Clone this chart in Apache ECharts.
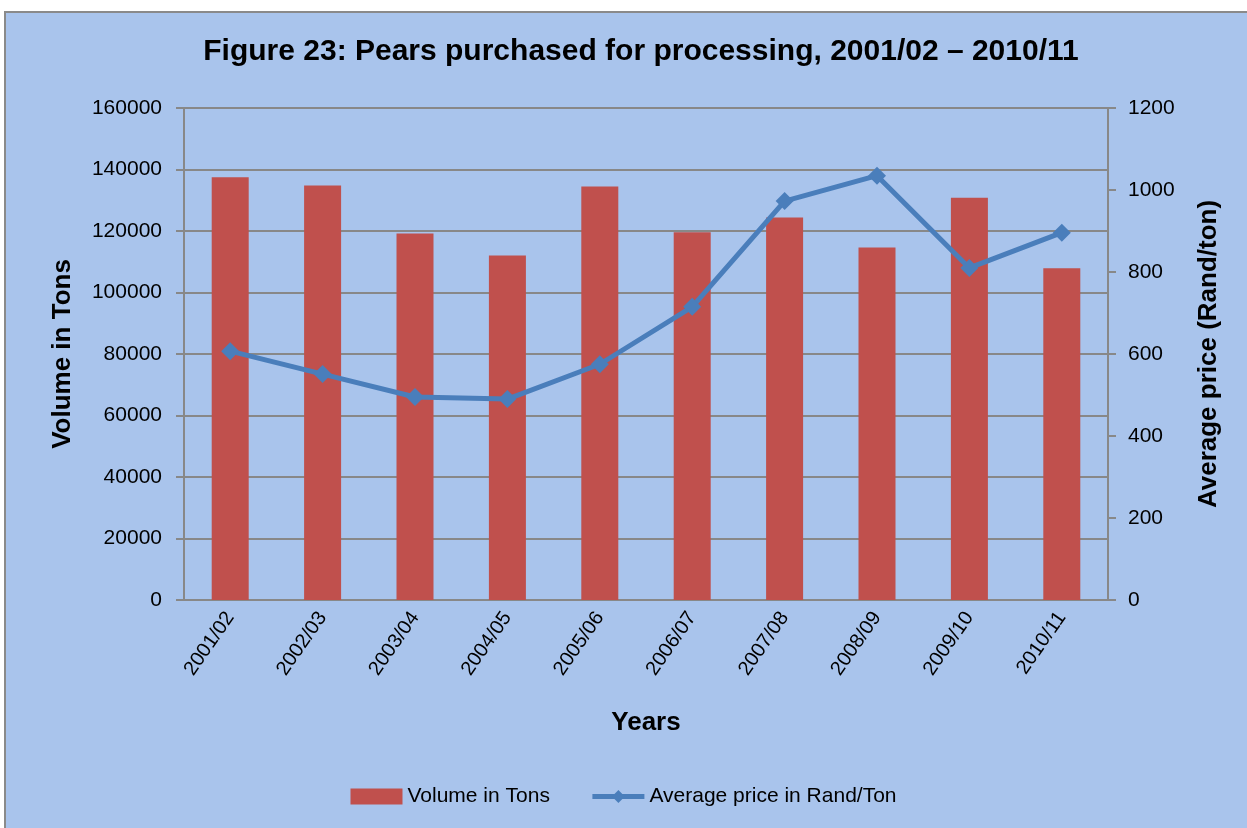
<!DOCTYPE html>
<html lang="en">
<head>
    <meta charset="UTF-8">
    <title>Pears purchased for processing</title>
    <script src="https://cdn.jsdelivr.net/npm/echarts@6/dist/echarts.min.js"></script>
    <style>
        html, body { margin: 0; padding: 0; background: #ffffff; }
        #box { position: absolute; left: 4px; top: 11px; width: 1260px; height: 830px;
               background: #A9C4EC; border: 2px solid #8a8a8a; box-sizing: border-box; }
        #main { position: absolute; left: 0; top: 0; width: 1247px; height: 828px; }
    </style>
</head>
<body>
    <div id="box"></div>
    <div id="main"></div>
<script>
    // 年份
    var years = ['2001/02', '2002/03', '2003/04', '2004/05', '2005/06',
                 '2006/07', '2007/08', '2008/09', '2009/10', '2010/11'];
    // 数量(吨)
    var volume = [137500, 134800, 119200, 112000, 134500, 119600, 124400, 114600, 130800, 107900];
    // 平均价格 (Rand/ton)
    var price = [607, 551, 495, 490, 575, 715, 973, 1035, 810, 896];

    var font = '"Liberation Sans Narrow", "Arial Narrow", "Liberation Sans", Arial, sans-serif';

    var myChart = echarts.init(document.getElementById('main'));
    var option = {
        backgroundColor: 'transparent',
        textStyle: { fontFamily: font, color: '#000' },
        title: {
            text: 'Figure 23: Pears purchased for processing, 2001/02 \u2013 2010/11',
            left: 636,
            textAlign: 'center',
            top: 32,
            textStyle: { fontFamily: font, fontSize: 30, fontWeight: 'bold', color: '#000' }
        },
        legend: {
            bottom: 16,
            left: 'center',
            itemGap: 40,
            itemWidth: 52,
            itemHeight: 16,
            textStyle: { fontFamily: font, fontSize: 21, color: '#000' },
            data: [
                { name: 'Volume in Tons', icon: 'rect' },
                { name: 'Average price in Rand/Ton', lineStyle: { width: 5 } }
            ]
        },
        grid: { left: 184, right: 139, top: 108, bottom: 228 },
        xAxis: {
            type: 'category',
            data: years,
            name: 'Years',
            nameLocation: 'middle',
            nameGap: 110,
            nameTextStyle: { fontFamily: font, fontSize: 26, fontWeight: 'bold', color: '#000' },
            axisLine: { lineStyle: { color: '#888', width: 2 } },
            axisTick: { show: false },
            axisLabel: { rotate: 55, fontSize: 20, color: '#000', interval: 0, margin: 14 }
        },
        yAxis: [
            {
                type: 'value',
                min: 0, max: 160000, interval: 20000,
                name: 'Volume in Tons',
                nameLocation: 'middle',
                nameGap: 108,
                nameTextStyle: { fontFamily: font, fontSize: 26, fontWeight: 'bold', color: '#000' },
                axisLine: { show: true, lineStyle: { color: '#888', width: 2 } },
                axisTick: { show: true, length: 8, lineStyle: { color: '#888', width: 2 } },
                axisLabel: { fontSize: 21, color: '#000', margin: 22,
                             formatter: function (v) { return String(v); } },
                splitLine: { lineStyle: { color: '#888', width: 2 } }
            },
            {
                type: 'value',
                min: 0, max: 1200, interval: 200,
                name: 'Average price (Rand/ton)',
                nameLocation: 'middle',
                nameGap: 88,
                nameRotate: 90,
                nameTextStyle: { fontFamily: font, fontSize: 26, fontWeight: 'bold', color: '#000' },
                axisLine: { show: true, lineStyle: { color: '#888', width: 2 } },
                axisTick: { show: true, length: 8, lineStyle: { color: '#888', width: 2 } },
                axisLabel: { fontSize: 21, color: '#000', margin: 20,
                             formatter: function (v) { return String(v); } },
                splitLine: { show: false }
            }
        ],
        series: [
            {
                name: 'Volume in Tons',
                type: 'bar',
                data: volume,
                barWidth: 37,
                itemStyle: { color: '#C0504D' }
            },
            {
                name: 'Average price in Rand/Ton',
                type: 'line',
                yAxisIndex: 1,
                data: price,
                symbol: 'diamond',
                symbolSize: 18,
                lineStyle: { color: '#4A7EBB', width: 5 },
                itemStyle: { color: '#4A7EBB' }
            }
        ]
    };
    myChart.setOption(option);
</script>
</body>
</html>
